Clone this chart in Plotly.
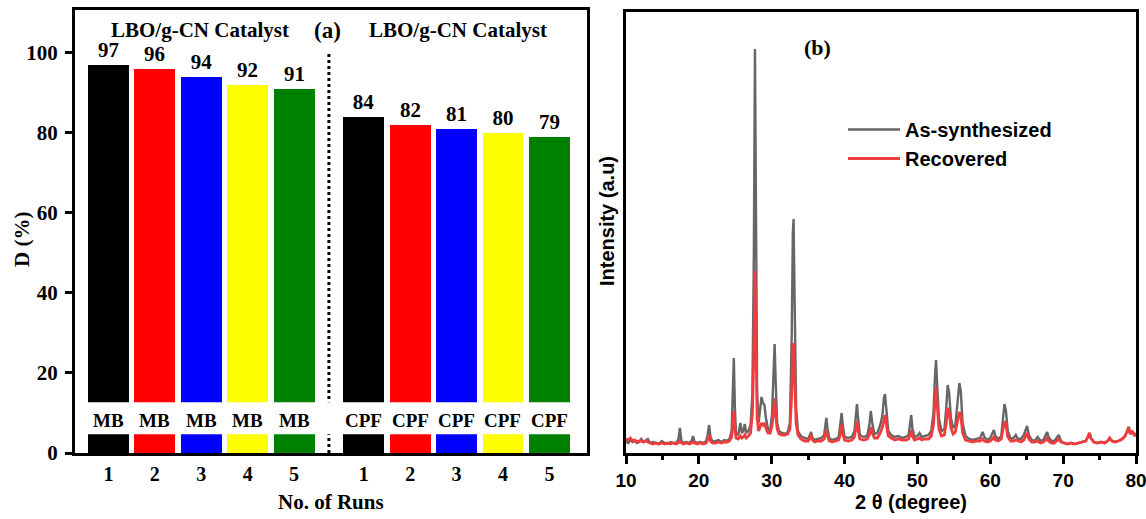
import plotly.graph_objects as go

# ---------------- Panel (a) data ----------------
runs_labels = ["1", "2", "3", "4", "5"]
mb_values = [97, 96, 94, 92, 91]
cpf_values = [84, 82, 81, 80, 79]
bar_colors = ["#000000", "#ff0000", "#0000ff", "#ffff00", "#008000"]
mb_pos = [0, 1, 2, 3, 4]
cpf_pos = [5.5, 6.5, 7.5, 8.5, 9.5]

# ---------------- Panel (b) data ----------------
two_theta = [10.0, 10.3, 10.6, 10.9, 11.2, 11.5, 11.8, 12.1, 12.4, 12.7, 13.0, 13.3, 13.7, 14.1, 14.5, 14.9,
             15.3, 15.7, 16.1, 16.5, 16.9, 17.2, 17.4, 17.6, 17.9, 18.3, 18.7, 19.0, 19.2, 19.4, 19.8, 20.2,
             20.6, 21.0, 21.2, 21.4, 21.6, 21.9, 22.3, 22.7, 23.1, 23.5, 23.9, 24.2, 24.5, 24.65, 24.8, 24.95,
             25.1, 25.4, 25.7, 25.9, 26.1, 26.3, 26.5, 26.8, 27.1, 27.35, 27.55, 27.7, 27.85, 28.0, 28.2, 28.45,
             28.6, 28.8, 29.0, 29.2, 29.5, 29.8, 30.05, 30.25, 30.4, 30.55, 30.75, 31.0, 31.4, 31.8, 32.2, 32.5,
             32.75, 32.9, 33.0, 33.15, 33.35, 33.6, 34.0, 34.5, 35.0, 35.25, 35.4, 35.6, 35.9, 36.3, 36.8, 37.2,
             37.4, 37.5, 37.65, 37.9, 38.3, 38.8, 39.2, 39.45, 39.6, 39.75, 40.0, 40.5, 41.0, 41.35, 41.55, 41.7,
             41.85, 42.1, 42.6, 43.1, 43.4, 43.6, 43.8, 44.1, 44.5, 44.9, 45.2, 45.4, 45.55, 45.75, 46.0, 46.4,
             46.9, 47.4, 47.9, 48.4, 48.8, 49.0, 49.15, 49.3, 49.6, 50.0, 50.3, 50.6, 51.0, 51.5, 51.9, 52.2,
             52.4, 52.55, 52.7, 52.95, 53.3, 53.7, 53.95, 54.15, 54.35, 54.6, 54.9, 55.2, 55.5, 55.75, 55.95, 56.2,
             56.6, 57.1, 57.6, 58.1, 58.6, 58.95, 59.2, 59.6, 60.0, 60.3, 60.5, 60.7, 61.1, 61.5, 61.8, 61.95,
             62.15, 62.4, 62.8, 63.2, 63.5, 63.8, 64.2, 64.6, 64.9, 65.05, 65.3, 65.7, 66.1, 66.5, 66.9, 67.3,
             67.6, 67.8, 68.0, 68.4, 68.8, 69.2, 69.4, 69.7, 70.1, 70.6, 71.1, 71.6, 72.1, 72.6, 73.1, 73.4,
             73.6, 73.8, 74.2, 74.7, 75.2, 75.7, 76.1, 76.4, 76.7, 77.1, 77.6, 78.1, 78.5, 78.8, 79.0, 79.2,
             79.5, 79.8, 80.0]

intensity_as = [12, 10, 13, 11, 12, 10, 11, 14, 11, 13, 14, 10, 11, 10, 9, 12,
                10, 9, 11, 10, 10, 14, 25, 12, 10, 11, 10, 12, 17, 11, 10, 11,
                10, 12, 18, 28, 16, 11, 12, 13, 11, 13, 12, 14, 22, 50, 95, 45,
                20, 18, 30, 20, 22, 29, 20, 22, 28, 60, 200, 404, 200, 60, 30, 45,
                56, 50, 48, 35, 24, 22, 40, 80, 109, 70, 30, 22, 20, 19, 21, 30,
                120, 220, 234, 150, 45, 22, 17, 15, 14, 18, 21, 15, 13, 14, 15, 18,
                30, 35, 25, 15, 13, 14, 16, 30, 40, 28, 16, 15, 16, 22, 38, 49,
                35, 18, 16, 17, 28, 42, 30, 19, 20, 28, 38, 55, 59, 40, 22, 18,
                16, 17, 15, 16, 18, 30, 38, 25, 16, 17, 20, 16, 17, 18, 22, 40,
                75, 93, 70, 35, 22, 24, 45, 68, 60, 35, 25, 28, 50, 70, 62, 30,
                17, 14, 13, 14, 15, 21, 16, 13, 15, 20, 23, 17, 14, 17, 35, 49,
                42, 22, 14, 15, 18, 14, 14, 18, 24, 27, 18, 13, 12, 16, 12, 13,
                18, 21, 16, 12, 12, 16, 18, 12, 10, 9, 10, 9, 10, 11, 12, 16,
                20, 15, 11, 10, 11, 10, 12, 15, 12, 11, 12, 14, 17, 22, 26, 19,
                22, 17, 20]

intensity_rec = [14, 13, 15, 12, 13, 11, 12, 12, 11, 12, 11, 10, 9, 10, 9, 10,
                 9, 10, 9, 10, 9, 10, 12, 10, 9, 10, 9, 10, 11, 10, 9, 10,
                 9, 10, 13, 18, 12, 10, 10, 11, 10, 11, 11, 12, 16, 28, 42, 24,
                 15, 14, 17, 15, 16, 18, 15, 17, 20, 40, 100, 182, 100, 35, 22, 26,
                 30, 28, 30, 25, 20, 20, 28, 42, 55, 38, 24, 19, 18, 18, 19, 24,
                 60, 105, 110, 75, 30, 18, 14, 12, 12, 15, 18, 13, 11, 12, 12, 14,
                 20, 23, 17, 12, 11, 12, 13, 20, 28, 19, 13, 12, 13, 16, 25, 32,
                 23, 14, 13, 14, 18, 26, 20, 15, 15, 20, 26, 35, 38, 28, 17, 15,
                 13, 14, 13, 13, 14, 19, 23, 17, 13, 14, 15, 13, 14, 14, 17, 28,
                 52, 66, 50, 24, 17, 18, 30, 45, 42, 25, 19, 21, 32, 41, 38, 20,
                 13, 12, 11, 12, 12, 14, 12, 11, 12, 14, 16, 13, 12, 14, 24, 32,
                 28, 16, 12, 12, 13, 12, 11, 13, 17, 20, 14, 11, 11, 12, 10, 11,
                 13, 15, 12, 10, 10, 13, 14, 11, 10, 9, 10, 9, 10, 11, 12, 16,
                 20, 15, 11, 10, 11, 10, 12, 15, 12, 11, 12, 14, 17, 22, 26, 19,
                 22, 17, 20]

SERIF = "Liberation Serif"
SANS = "Liberation Sans"
W, H = 1146, 519


def px_x(p):
    return p / W


def px_y(p):
    return 1 - p / H


fig = go.Figure()

# Panel (a) bars
fig.add_trace(go.Bar(x=mb_pos, y=mb_values, marker=dict(color=bar_colors, line=dict(width=0)),
                     width=0.88, text=[str(v) for v in mb_values], textposition="outside",
                     textfont=dict(family=SERIF, size=21, color="black", weight="bold"),
                     cliponaxis=False, showlegend=False, xaxis="x", yaxis="y"))
fig.add_trace(go.Bar(x=cpf_pos, y=cpf_values, marker=dict(color=bar_colors, line=dict(width=0)),
                     width=0.88, text=[str(v) for v in cpf_values], textposition="outside",
                     textfont=dict(family=SERIF, size=21, color="black", weight="bold"),
                     cliponaxis=False, showlegend=False, xaxis="x", yaxis="y"))

# Panel (b) lines
fig.add_trace(go.Scatter(x=two_theta, y=intensity_as, mode="lines", name="As-synthesized",
                         line=dict(color="#666666", width=2.4), xaxis="x2", yaxis="y2"))
fig.add_trace(go.Scatter(x=two_theta, y=intensity_rec, mode="lines", name="Recovered",
                         line=dict(color="#f03c3c", width=2.8), xaxis="x2", yaxis="y2"))

fig.update_layout(
    width=W, height=H, margin=dict(l=0, r=0, t=0, b=0, autoexpand=False),
    paper_bgcolor="white", plot_bgcolor="white",
    bargap=0,
    xaxis=dict(domain=[px_x(75), px_x(587)], range=[-0.72, 10.31], automargin=False,
               tickvals=mb_pos + cpf_pos, ticktext=runs_labels + runs_labels,
               ticks="", ticklabelstandoff=1,
               tickfont=dict(family=SERIF, size=20, color="black", weight="bold"),
               showline=True, linecolor="black", linewidth=3, mirror=True,
               showgrid=False, zeroline=False),
    yaxis=dict(domain=[px_y(453), px_y(10)], range=[0, 110.7], automargin=False,
               tickvals=[0, 20, 40, 60, 80, 100], ticks="outside", ticklen=7, tickwidth=3,
               tickcolor="black", ticklabelstandoff=3,
               tickfont=dict(family=SERIF, size=21, color="black", weight="bold"),
               showline=True, linecolor="black", linewidth=3, mirror=True,
               showgrid=False, zeroline=False),
    xaxis2=dict(domain=[px_x(626), px_x(1136)], range=[10, 80], anchor="y2", automargin=False,
                tickvals=[10, 20, 30, 40, 50, 60, 70, 80], ticks="outside", ticklen=8, tickwidth=2.5,
                tickcolor="black", ticklabeloverflow="allow",
                minor=dict(tickvals=[15, 25, 35, 45, 55, 65, 75], ticks="outside", ticklen=4,
                           tickwidth=2.5, tickcolor="black"),
                tickfont=dict(family=SANS, size=19, color="black", weight="bold"),
                showline=True, linecolor="black", linewidth=2.5, mirror=True,
                showgrid=False, zeroline=False),
    yaxis2=dict(domain=[px_y(453), px_y(12)], range=[0, 441], anchor="x2", automargin=False,
                showticklabels=False, ticks="",
                showline=True, linecolor="black", linewidth=2.5, mirror=True,
                showgrid=False, zeroline=False),
    legend=dict(x=px_x(843), y=px_y(110), xanchor="left", yanchor="top",
                bgcolor="rgba(0,0,0,0)", borderwidth=0, itemwidth=52,
                font=dict(family=SANS, size=20, color="black", weight="bold")),
    shapes=[
        dict(type="line", xref="x", yref="y", x0=4.75, x1=4.75, y0=0, y1=100,
             line=dict(color="black", width=3, dash="dot"), layer="above"),
        dict(type="rect", xref="x", yref="y", x0=-0.55, x1=10.0, y0=4.7, y1=12.7,
             fillcolor="white", line=dict(width=0), layer="above"),
    ],
)

CENTER = dict(xanchor="center", yanchor="middle", showarrow=False)
annotations = []
for p in mb_pos:
    annotations.append(dict(x=p, y=8.0, xref="x", yref="y", text="MB", **CENTER,
                            font=dict(family=SERIF, size=19, color="black", weight="bold")))
for p in cpf_pos:
    annotations.append(dict(x=p, y=8.0, xref="x", yref="y", text="CPF", **CENTER,
                            font=dict(family=SERIF, size=19, color="black", weight="bold")))
annotations += [
    dict(x=1.97, y=105.7, xref="x", yref="y", text="LBO/g-CN Catalyst", **CENTER,
         font=dict(family=SERIF, size=21, color="black", weight="bold")),
    dict(x=7.53, y=105.7, xref="x", yref="y", text="LBO/g-CN Catalyst", **CENTER,
         font=dict(family=SERIF, size=21, color="black", weight="bold")),
    dict(x=4.72, y=105.7, xref="x", yref="y", text="(a)", **CENTER,
         font=dict(family=SERIF, size=23, color="black", weight="bold")),
    dict(x=px_x(22), y=px_y(240), xref="paper", yref="paper", text="D (%)", textangle=-90,
         **CENTER, font=dict(family=SERIF, size=21, color="black", weight="bold")),
    dict(x=px_x(331), y=px_y(502), xref="paper", yref="paper", text="No. of Runs",
         **CENTER, font=dict(family=SERIF, size=21, color="black", weight="bold")),
    dict(x=px_x(817), y=px_y(47), xref="paper", yref="paper", text="(b)",
         **CENTER, font=dict(family=SERIF, size=22, color="black", weight="bold")),
    dict(x=px_x(607), y=px_y(221), xref="paper", yref="paper", text="Intensity (a.u)", textangle=-90,
         **CENTER, font=dict(family=SANS, size=20, color="black", weight="bold")),
    dict(x=px_x(911), y=px_y(502), xref="paper", yref="paper", text="2 θ (degree)",
         **CENTER, font=dict(family=SANS, size=20, color="black", weight="bold")),
]
fig.update_layout(annotations=annotations)

fig.write_html("out.html")
